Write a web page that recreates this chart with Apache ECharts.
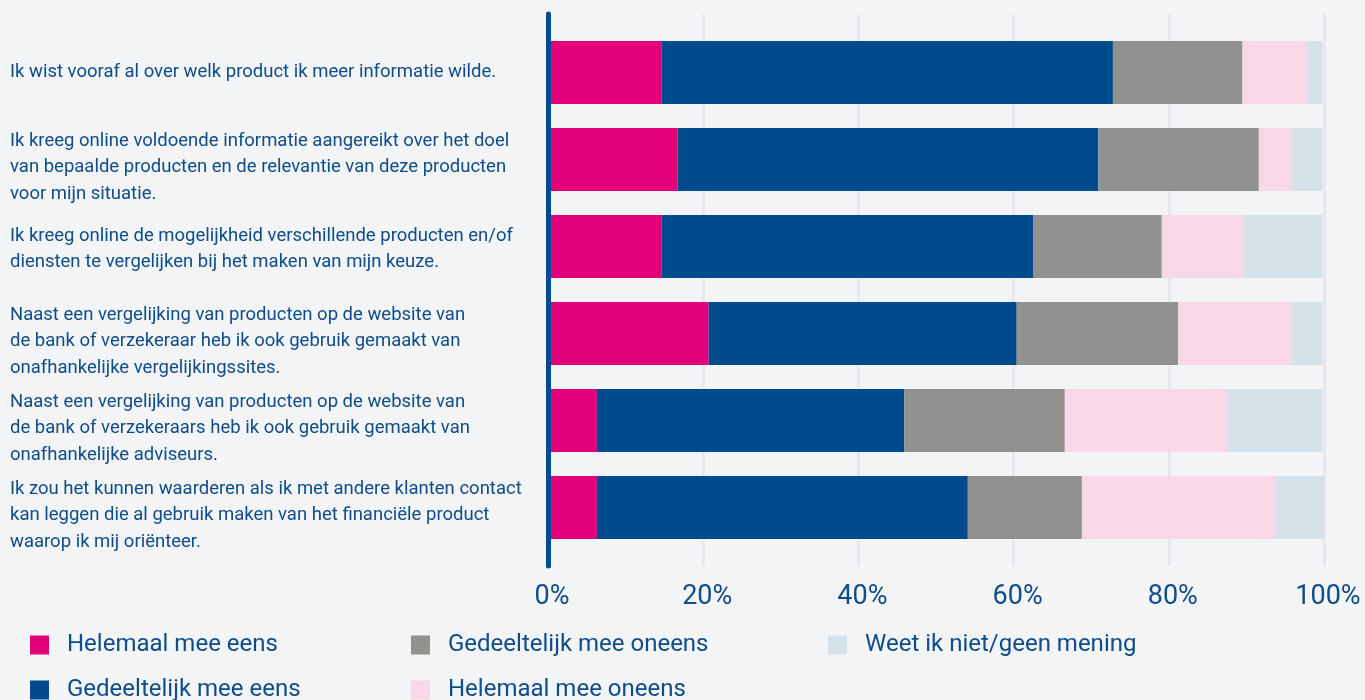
<!DOCTYPE html>
<html>
<head>
<meta charset="utf-8">
<script src="https://cdn.jsdelivr.net/npm/echarts@6/dist/echarts.min.js"></script>
<style>
  html, body { margin: 0; padding: 0; background: #f2f4f6; }
  #chart { width: 1365px; height: 700px; }
</style>
</head>
<body>
<div id="chart"></div>
<script>
// Survey statements (top to bottom)
const categories = [
  'Ik wist vooraf al over welk product ik meer informatie wilde.',
  'Ik kreeg online voldoende informatie aangereikt over het doel\nvan bepaalde producten en de relevantie van deze producten\nvoor mijn situatie.',
  'Ik kreeg online de mogelijkheid verschillende producten en/of\ndiensten te vergelijken bij het maken van mijn keuze.',
  'Naast een vergelijking van producten op de website van\nde bank of verzekeraar heb ik ook gebruik gemaakt van\nonafhankelijke vergelijkingssites.',
  'Naast een vergelijking van producten op de website van\nde bank of verzekeraars heb ik ook gebruik gemaakt van\nonafhankelijke adviseurs.',
  'Ik zou het kunnen waarderen als ik met andere klanten contact\nkan leggen die al gebruik maken van het financiële product\nwaarop ik mij oriënteer.'
];

const seriesNames = [
  'Helemaal mee eens',
  'Gedeeltelijk mee eens',
  'Gedeeltelijk mee oneens',
  'Helemaal mee oneens',
  'Weet ik niet/geen mening'
];

// Percentages per answer, one value per statement
const helemaalEens       = [14.6, 16.7, 14.6, 20.7,  6.3,  6.3];
const gedeeltelijkEens   = [58.2, 54.2, 47.9, 39.7, 39.6, 47.8];
const gedeeltelijkOneens = [16.7, 20.7, 16.6, 20.8, 20.7, 14.7];
const helemaalOneens     = [ 8.3,  4.2, 10.5, 14.6, 20.9, 24.9];
const weetNiet           = [ 2.0,  4.0, 10.2,  4.0, 12.3,  6.3];

const tickLabels = ['0%', '20%', '40%', '60%', '80%', '100%'];

const colors = ['#e2007a', '#004b8d', '#91918f', '#f8d8e6', '#d5e2ea'];
const values = [helemaalEens, gedeeltelijkEens, gedeeltelijkOneens, helemaalOneens, weetNiet];

const textColor = '#0f4c8a';
const fontFamily = 'Roboto, "Noto Sans", sans-serif';

// Legend entries laid out in three columns, two rows
const legendSlots = [
  { left: 30,  top: 633 },
  { left: 30,  top: 678 },
  { left: 411, top: 633 },
  { left: 411, top: 678 },
  { left: 828, top: 633 }
];

// Longer statements sit a little lower than their bar: a spacer line on top
const spacerByLines = { 1: null, 2: 'p2', 3: 'p3' };

const chart = echarts.init(document.getElementById('chart'));

chart.setOption({
  backgroundColor: '#f2f4f6',
  animation: false,
  color: colors,
  legend: seriesNames.map(function (name, i) {
    return {
      data: [name],
      left: legendSlots[i].left,
      top: legendSlots[i].top,
      padding: 0,
      icon: 'rect',
      itemWidth: 19,
      itemHeight: 19,
      selectedMode: false,
      textStyle: {
        color: textColor,
        fontSize: 24,
        fontFamily: fontFamily,
        lineHeight: 19,
        padding: [0, 0, 0, 13]
      }
    };
  }),
  grid: [
    { left: 548, right: 41, top: 14, bottom: 134 },
    { left: 548, right: 41, top: 29, height: 522 }
  ],
  xAxis: [
    {
      gridIndex: 0,
      type: 'value',
      min: 0,
      max: 100,
      interval: 20,
      axisLine: { show: false },
      axisTick: { show: false },
      splitLine: { show: true, lineStyle: { color: '#e3e6ed', width: 2.5 } },
      axisLabel: {
        margin: 18,
        color: textColor,
        fontSize: 27,
        fontFamily: fontFamily,
        padding: [0, 0, 0, 8],
        formatter: function (v) { return tickLabels[Math.round(v / 20)]; }
      }
    },
    {
      gridIndex: 1,
      type: 'value',
      min: 0,
      max: 100,
      show: false
    }
  ],
  yAxis: [
    {
      gridIndex: 0,
      type: 'category',
      data: [''],
      z: 10,
      axisLine: { show: true, lineStyle: { color: '#004b8d', width: 5 } },
      axisTick: { show: false },
      axisLabel: { show: false },
      splitLine: { show: false }
    },
    {
      gridIndex: 1,
      type: 'category',
      inverse: true,
      data: categories,
      axisLine: { show: false },
      axisTick: { show: false },
      axisLabel: {
        interval: 0,
        align: 'left',
        margin: 538,
        color: textColor,
        fontSize: 18.5,
        lineHeight: 26.5,
        fontFamily: fontFamily,
        formatter: function (label) {
          const spacer = spacerByLines[label.split('\n').length];
          return spacer ? '{' + spacer + '| }\n' + label : label;
        },
        rich: {
          p2: { lineHeight: 6, fontSize: 4 },
          p3: { lineHeight: 16, fontSize: 4 }
        }
      }
    }
  ],
  series: seriesNames.map(function (name, i) {
    return {
      name: name,
      type: 'bar',
      stack: 'total',
      xAxisIndex: 1,
      yAxisIndex: 1,
      barCategoryGap: '27.6%',
      itemStyle: { color: colors[i] },
      data: values[i]
    };
  })
});
</script>
</body>
</html>
